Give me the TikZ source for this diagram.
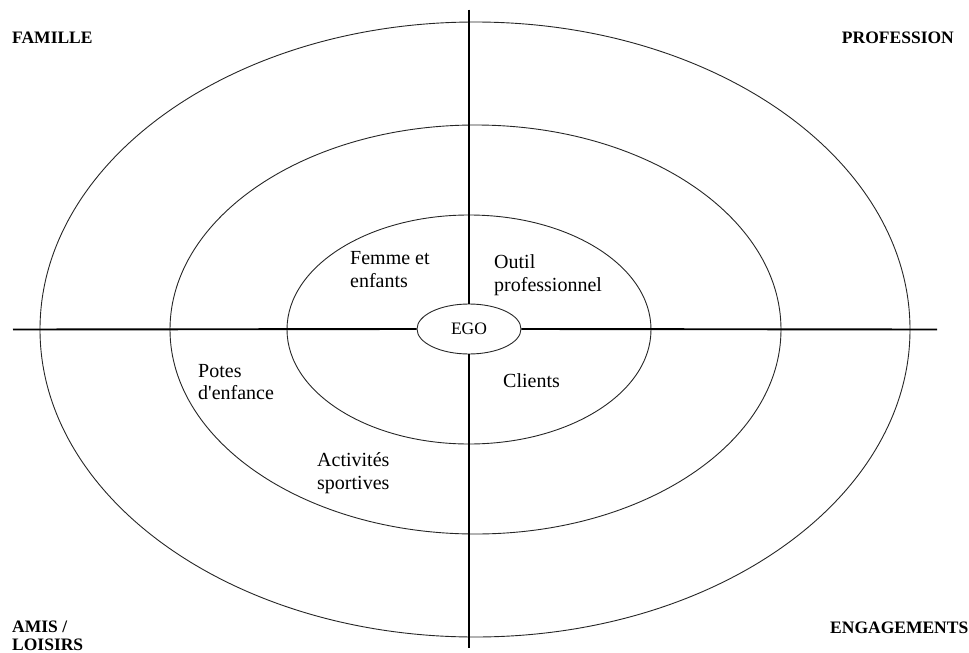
\documentclass[tikz,border=0pt]{standalone}
\usepackage{fontspec}
\setmainfont{Liberation Serif}
\usetikzlibrary{shapes.geometric}
\begin{document}
\begin{tikzpicture}[x=1pt,y=-1pt,
  ring/.style={draw=black!85,line width=0.9pt},
  axis/.style={draw=black,line width=1.9pt},
  lbl/.style={inner sep=0pt,anchor=west,align=left,font=\fontsize{20}{22.5}\selectfont},
  corner/.style={inner sep=0pt,align=left,font=\fontsize{17.5}{18}\selectfont\bfseries}]
\useasboundingbox (0,0) rectangle (969,653);
% rings
\draw[ring] (475,329.5) ellipse [x radius=435pt, y radius=307.5pt];
\draw[ring] (475.5,329.5) ellipse [x radius=305.5pt, y radius=204.5pt];
\draw[ring] (469,329.5) ellipse [x radius=182pt, y radius=114.5pt];
% centre
\node[ellipse,draw=black!85,line width=0.9pt,minimum width=104pt,minimum height=50pt,inner sep=0pt,
  font=\fontsize{17.5}{20}\selectfont] (ego) at (469,329) {EGO};
% axis ends
\coordinate (top) at (469,9.5);
\coordinate (bottom) at (469,648);
\coordinate (left) at (13,329.5);
\coordinate (right) at (937,329.5);
\draw[axis] (top) -- (ego.north);
\draw[axis] (ego.south) -- (bottom);
\draw[axis] (left) -- (ego.west);
\draw[axis] (ego.east) -- (right);
% labels
\node[lbl] (femme) at (350,269.5) {Femme et\\enfants};
\node[lbl] (outil) at (494,275) {Outil\\professionnel};
\node[lbl] (potes) at (198,382) {Potes\\d\textquotesingle enfance};
\node[lbl] (clients) at (503,381) {Clients};
\node[lbl] (sport) at (317,473) {Activités\\sportives};
% corners
\node[corner,anchor=west] (famille) at (12,38) {FAMILLE};
\node[corner,anchor=east] (prof) at (954,38) {PROFESSION};
\node[corner,anchor=west] (amis) at (12,635.5) {AMIS /\\LOISIRS};
\node[corner,anchor=west] (eng) at (830,628) {ENGAGEMENTS};
\end{tikzpicture}
\end{document}
